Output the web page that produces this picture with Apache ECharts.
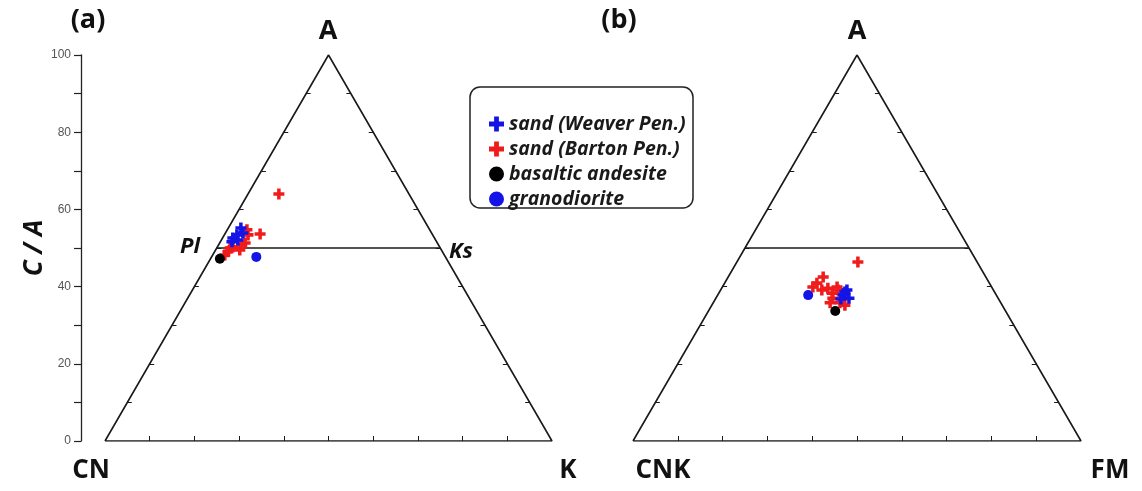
<!DOCTYPE html>
<html>
<head>
<meta charset="utf-8">
<script src="https://cdn.jsdelivr.net/npm/echarts@6/dist/echarts.min.js"></script>
<style>
  html, body { margin: 0; padding: 0; background: #fff; }
  #chart { width: 1142px; height: 491px; }
</style>
</head>
<body>
<div id="chart"></div>
<script>
// Compositions as [A, CN(K), K(FM)] percentages.
// Panel (a): A - CN - K
const weaverA = [[55.2, 42.0, 2.8], [53.4, 43.8, 2.8], [52.6, 45.1, 2.3], [51.6, 45.8, 2.6], [52.1, 44.2, 3.7], [53.9, 42.2, 3.9]];
const bartonA = [[54.7, 40.9, 4.4], [53.4, 41.3, 5.3], [50.8, 44.0, 5.2], [50.3, 46.2, 3.5], [49.0, 48.0, 3.0], [48.2, 49.1, 2.7],
                 [49.5, 45.1, 5.4], [51.3, 43.0, 5.7], [50.0, 47.0, 3.0], [53.6, 38.5, 7.9], [64.0, 29.1, 6.9]];
const basaltA = [[47.2, 50.7, 2.1]];
const granoA = [[47.7, 42.3, 10.0]];
// Panel (b): A - CNK - FM
const weaverB = [[37.8, 34.2, 28.0], [39.1, 32.7, 28.2], [37.0, 33.3, 29.7], [36.8, 35.2, 28.0], [38.6, 33.4, 28.0]];
const bartonB = [[42.5, 36.3, 21.2], [40.9, 38.5, 20.6], [39.9, 39.9, 20.2], [39.6, 36.7, 23.7], [39.1, 38.3, 22.6], [38.3, 36.4, 25.3],
                 [39.9, 34.5, 25.6], [37.0, 36.9, 26.1], [35.8, 35.9, 28.3], [35.2, 35.1, 29.7], [35.8, 38.1, 26.1], [39.1, 34.7, 26.2],
                 [46.4, 26.6, 27.0]];
const basaltB = [[33.7, 38.0, 28.3]];
const granoB = [[37.8, 42.0, 20.2]];

const yTicks = [0, 20, 40, 60, 80, 100];
const ternaryTicks = [10, 20, 30, 40, 50, 60, 70, 80, 90];
const divideLevel = 50;

const seriesNames = ['sand (Weaver Pen.)', 'sand (Barton Pen.)', 'basaltic andesite', 'granodiorite'];

// ternary composition -> plot coordinates (x along base, y = A)
function toXY(list) {
  return list.map(function (p) { return [p[2] + p[0] / 2, p[0]]; });
}

const plus = 'path://M3.4,0H6.6V3.4H10V6.6H6.6V10H3.4V6.6H0V3.4H3.4Z';
const RED = '#f01c1c', BLUE = '#1414e6', BLACK = '#000';

function frame(gi) {
  const ticks = [];
  ternaryTicks.forEach(function (t) {
    ticks.push({ coords: [[t, 0], [t, 1.3]] });
    ticks.push({ coords: [[t / 2, t], [t / 2 + 1, t]] });
    ticks.push({ coords: [[100 - t / 2, t], [100 - t / 2 - 1, t]] });
  });
  return [
    {
      type: 'line', xAxisIndex: gi, yAxisIndex: gi, silent: true, symbol: 'none',
      lineStyle: { color: '#1a1a1a', width: 1.6 }, z: 2,
      data: [[0, 0], [50, 100], [100, 0], [0, 0]]
    },
    {
      type: 'line', xAxisIndex: gi, yAxisIndex: gi, silent: true, symbol: 'none',
      lineStyle: { color: '#1a1a1a', width: 1.6 }, z: 2,
      data: [[divideLevel / 2, divideLevel], [100 - divideLevel / 2, divideLevel]]
    },
    {
      type: 'lines', coordinateSystem: 'cartesian2d', xAxisIndex: gi, yAxisIndex: gi, silent: true,
      lineStyle: { color: '#1a1a1a', width: 1, opacity: 1 }, z: 2,
      data: ticks
    }
  ];
}

function points(gi, sets) {
  const styles = [
    { symbol: plus, size: 11, color: BLUE },
    { symbol: plus, size: 11, color: RED },
    { symbol: 'circle', size: 10, color: BLACK },
    { symbol: 'circle', size: 10, color: BLUE }
  ];
  // draw Barton first so the Weaver crosses sit on top
  const order = [1, 0, 2, 3];
  return order.map(function (i) {
    return {
      type: 'scatter', name: seriesNames[i], xAxisIndex: gi, yAxisIndex: gi,
      symbol: styles[i].symbol, symbolSize: styles[i].size,
      itemStyle: { color: styles[i].color, opacity: 1 },
      data: toXY(sets[i]), z: 5
    };
  });
}

const chart = echarts.init(document.getElementById('chart'), null, { renderer: 'canvas' });

function label(text, x, y, size, italic, align) {
  return {
    type: 'text', x: x, y: y, z: 10,
    style: {
      text: text, fill: '#111', font: (italic ? 'italic ' : '') + 'bold ' + size + 'px "Open Sans"',
      textAlign: align || 'center', textVerticalAlign: 'middle'
    }
  };
}

chart.setOption({
  animation: false,
  backgroundColor: '#fff',
  grid: [
    { left: 105, top: 55, width: 447, height: 386 },
    { left: 633, top: 55, width: 448, height: 386 },
    // narrow grid that only carries the C / A scale, to the left of panel (a)
    { left: 81, top: 55, width: 1, height: 386 }
  ],
  xAxis: [
    { type: 'value', gridIndex: 0, min: 0, max: 100, show: false },
    { type: 'value', gridIndex: 1, min: 0, max: 100, show: false },
    { type: 'value', gridIndex: 2, min: 0, max: 1, show: false }
  ],
  yAxis: [
    { type: 'value', gridIndex: 0, min: 0, max: 100, show: false },
    { type: 'value', gridIndex: 1, min: 0, max: 100, show: false },
    {
      type: 'value', gridIndex: 2, min: 0, max: 100, interval: 20,
      axisLine: { show: true, lineStyle: { color: '#222', width: 1.3 } },
      axisTick: { show: true, length: 7, lineStyle: { color: '#222', width: 1.2 } },
      minorTick: { show: true, splitNumber: 2, length: 7, lineStyle: { color: '#222', width: 1.2 } },
      splitLine: { show: false },
      axisLabel: {
        margin: 10, color: '#555', fontSize: 12, fontFamily: 'Liberation Sans',
        formatter: function (v) { return yTicks.indexOf(v) >= 0 ? String(v) : ''; }
      }
    }
  ],
  legend: {
    data: seriesNames,
    orient: 'vertical', left: 484, top: 109, itemGap: 5,
    itemWidth: 15, itemHeight: 15,
    textStyle: { fontFamily: 'Open Sans', fontStyle: 'italic', fontWeight: 'bold', fontSize: 19.5, color: '#1a1a1a', lineHeight: 19 },
    selectedMode: false
  },
  graphic: [
    {
      type: 'rect', z: 0,
      shape: { x: 470, y: 87, width: 223, height: 121, r: 10 },
      style: { fill: '#fff', stroke: '#222', lineWidth: 1.5 }
    },
    label('(a)', 88, 20, 27, false),
    label('(b)', 619, 20, 27, false),
    label('A', 328, 31, 27, false),
    label('A', 857, 31, 27, false),
    label('CN', 91, 471, 26, false),
    label('K', 568, 471, 26, false),
    label('CNK', 663, 471, 26, false),
    label('FM', 1110, 471, 26, false),
    label('Pl', 190, 247, 22, true),
    label('Ks', 461, 252, 22, true),
    {
      type: 'text', x: 35, y: 248, rotation: Math.PI / 2, z: 10,
      style: {
        text: 'C / A', fill: '#111', font: 'italic bold 26px "Open Sans"',
        textAlign: 'center', textVerticalAlign: 'middle'
      }
    }
  ],
  series: [].concat(
    frame(0), frame(1),
    points(0, [weaverA, bartonA, basaltA, granoA]),
    points(1, [weaverB, bartonB, basaltB, granoB])
  )
});
</script>
</body>
</html>
